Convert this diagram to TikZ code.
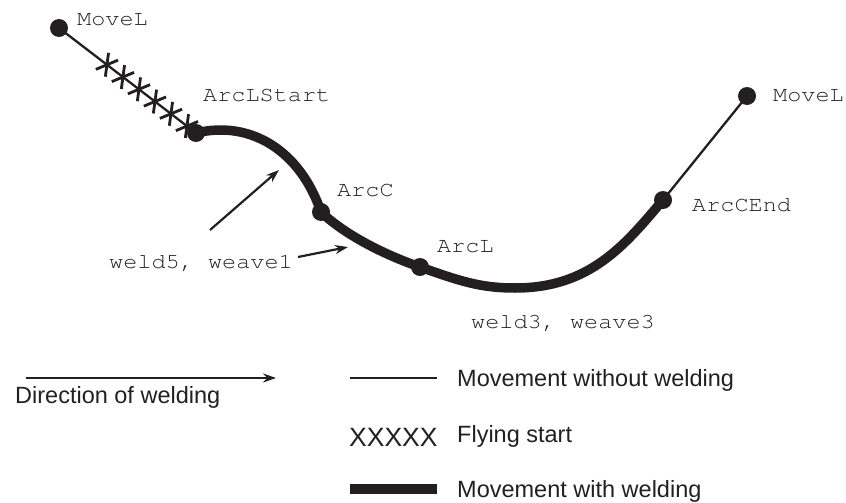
\documentclass[tikz,border=0pt]{standalone}
\usepackage{fontspec}
\setmainfont{Liberation Sans}
\newfontfamily\monof[FakeStretch=1.1]{texgyrecursor-regular.otf}
\usetikzlibrary{arrows.meta,calc}
\definecolor{ink}{RGB}{35,31,32}
\tikzset{
  dot/.style={circle,fill=ink,inner sep=0pt,minimum size=18pt},
  lbl/.style={anchor=base west,inner sep=0pt,text=ink,font=\monof\fontsize{21.4}{24}\selectfont},
  legtxt/.style={anchor=base west,inner sep=0pt,text=ink,font=\fontsize{23.5}{27}\selectfont},
  thinline/.style={draw=ink,line width=2.3pt},
  weldline/.style={draw=ink,line width=9.5pt},
  xmark/.style={draw=ink,line width=2.8pt},
  ptr/.style={draw=ink,line width=2.2pt,-{Stealth[length=13pt,width=9pt]}}
}
\begin{document}
\begin{tikzpicture}[x=1pt,y=-1pt]
\useasboundingbox (0,0) rectangle (846,503);
% points
\node[dot] (m1) at (59,28) {};
\node[dot] (als) at (196,133) {};
\node[dot] (arcc) at (321,212) {};
\node[dot] (arcl) at (420,267) {};
\node[dot] (ace) at (663,200) {};
\node[dot] (m2) at (747,96) {};
\coordinate (low) at (515,288);
% paths
\draw[thinline] (m1.center) -- (als.center);
\draw[thinline] (ace.center) -- (m2.center);
\draw[weldline] (als.center) .. controls (250,120) and (300,150) .. (arcc.center)
  .. controls (345,235) and (385,255) .. (arcl.center)
  .. controls (460,281) and (480,288) .. (low)
  .. controls (590,288) and (625,245) .. (ace.center);
% flying start marks
\foreach \t in {0.35,0.4668,0.5836,0.7004,0.8172,0.934}{
  \draw[xmark] ($(m1.center)!\t!(als.center)$) ++(1.6,-11.9) -- ++(-3.2,23.8);
  \draw[xmark] ($(m1.center)!\t!(als.center)$) ++(-11.1,4.6) -- ++(22.2,-9.2);
}
% labels
\node[lbl] (t1) at (77,26) {MoveL};
\node[lbl] (t2) at (203,102) {ArcLStart};
\node[lbl] (t3) at (337,196) {ArcC};
\node[lbl] (t4) at (437,252) {ArcL};
\node[lbl] (t5) at (692,211) {ArcCEnd};
\node[lbl] (t6) at (773,102) {MoveL};
\node[lbl] (w5) at (109,268) {weld5, weave1};
\node[lbl] (w3) at (471,328) {weld3, weave3};
% pointer arrows
\coordinate (p1s) at (210,230);
\coordinate (p1e) at (279,170);
\coordinate (p2s) at (298,257);
\coordinate (p2e) at (348,247);
\draw[ptr] (p1s) -- (p1e);
\draw[ptr] (p2s) -- (p2e);
% legend
\coordinate (da) at (26,378);
\coordinate (db) at (276,378);
\draw[ptr] (da) -- (db);
\node[legtxt] (dtxt) at (15,403) {Direction of welding};
\coordinate (la) at (350,378);
\coordinate (lb) at (437,378);
\draw[thinline] (la) -- (lb);
\node[legtxt] (l1) at (457,386) {Movement without welding};
\node[anchor=base west,inner sep=0pt,text=ink,font=\fontsize{26.5}{30}\selectfont] (xx) at (349,446) {XXXXX};
\node[legtxt] (l2) at (457,442) {Flying start};
\coordinate (lc) at (350,489);
\coordinate (ld) at (437,489);
\draw[draw=ink,line width=10pt] (lc) -- (ld);
\node[legtxt] (l3) at (457,497) {Movement with welding};
\end{tikzpicture}
\end{document}
